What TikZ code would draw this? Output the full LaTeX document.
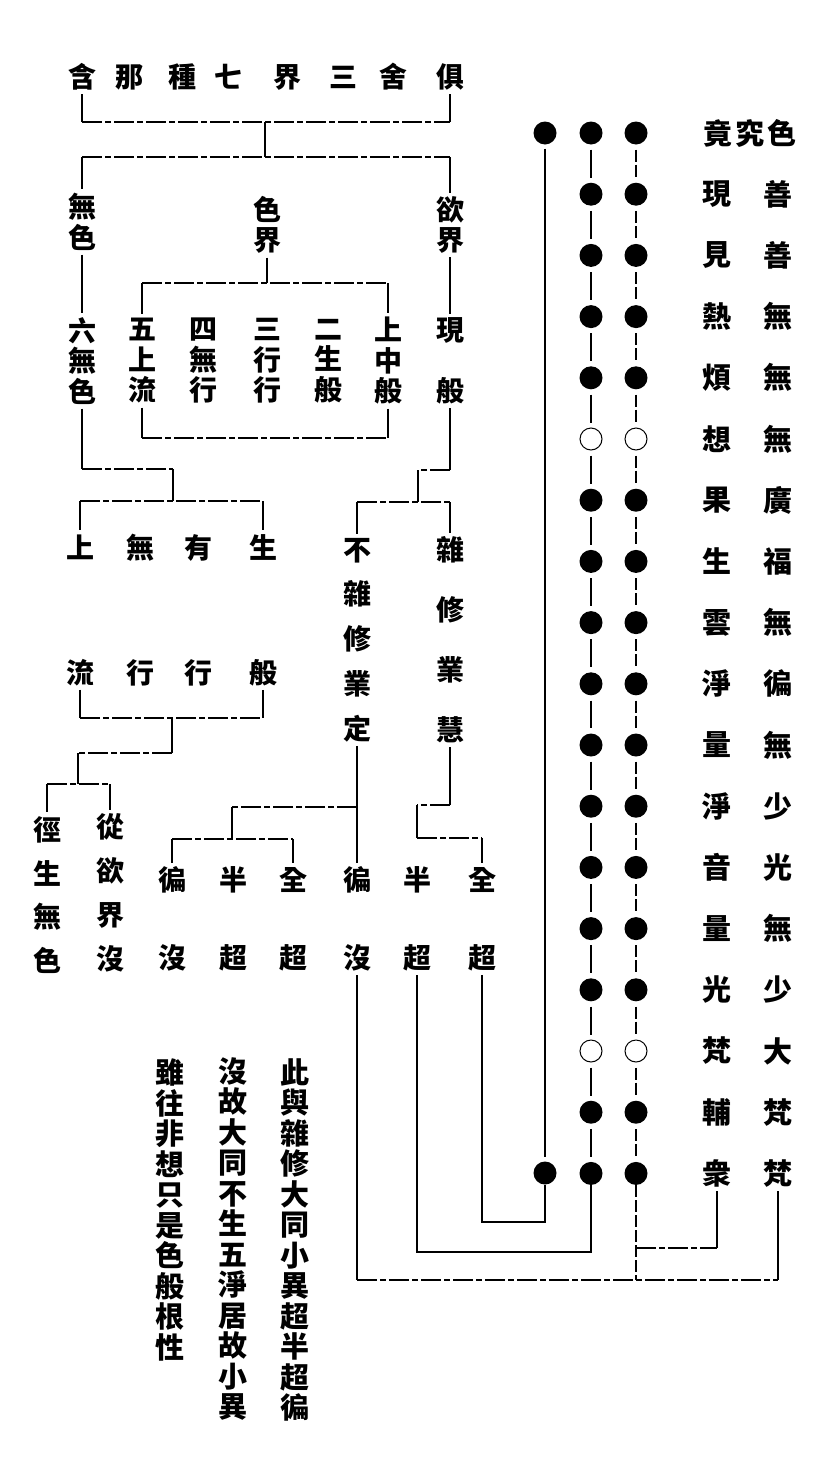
\documentclass[tikz,border=0pt]{standalone}
\usepackage{fontspec}
\newfontfamily\cjk{Noto Sans CJK TC}
\usepackage{tikz}
\tikzstyle{Stem}=[line width=1.6pt]
\tikzstyle{Bar}=[line width=1.2pt, dash pattern=on 20pt off 3pt on 6pt off 3pt]
\tikzstyle{Dot}=[circle, fill=black, minimum size=23pt, inner sep=0pt]
\tikzstyle{Ring}=[circle, draw=black, line width=1pt, minimum size=22pt, inner sep=0pt]
\tikzstyle{LinkB}=[line width=1.6pt, shorten <=5pt, shorten >=5pt]
\tikzstyle{LinkC}=[line width=1.6pt, shorten <=5pt, shorten >=5pt, dash pattern=on 12pt off 3pt]
\tikzset{Col/.style={align=center, inner sep=0pt, outer sep=4pt, font=\cjk\bfseries\fontsize{28pt}{#1pt}\selectfont},
  Lbl/.style={inner sep=0pt, outer sep=4pt, font=\cjk\bfseries\fontsize{29pt}{30pt}\selectfont},
  Note/.style={align=center, inner sep=0pt, font=\cjk\bfseries\fontsize{29pt}{30.5pt}\selectfont}}

\begin{document}
\begin{tikzpicture}[x=1pt, y=-1pt]
\useasboundingbox (0,0) rectangle (835,1483);

% title row
\foreach \x/\c [count=\i] in {82/含,129/那,182/種,228/七,287/界,343/三,393/舍,450/俱}
  \node[Col=30] (t\i) at (\x,77) {\c};

% tree of the three realms
\path
 (82,222) node[Col=31] (wuse) {無\\色}
 (267,225) node[Col=30] (sejie) {色\\界}
 (450,225) node[Col=30] (yujie) {欲\\界}
 (82,361) node[Col=30.5] (liuwu) {六\\無\\色}
 (142,361) node[Col=30.5] (wushang) {五\\上\\流}
 (203,361) node[Col=30.5] (siwu) {四\\無\\行}
 (267,361) node[Col=30.5] (sanxing) {三\\行\\行}
 (328,361) node[Col=30.5] (ersheng) {二\\生\\般}
 (388,361) node[Col=30.5] (shangzhong) {上\\中\\般}
 (450,361) node[Col=61] (xianban) {現\\般}
 (80,610) node[Col=125] (liu) {上\\流}
 (140,610) node[Col=125] (wuxing) {無\\行}
 (198,610) node[Col=125] (youxing) {有\\行}
 (263,610) node[Col=125] (shengban) {生\\般}
 (357,640) node[Col=44.75] (buza) {不\\雜\\修\\業\\定}
 (450,640) node[Col=60] (zaxiu) {雜\\修\\業\\慧}
 (47,895) node[Col=43.7] (jing) {徑\\生\\無\\色}
 (110,893) node[Col=44] (cong) {從\\欲\\界\\沒}
 (172,919) node[Col=78] (piana) {徧\\沒}
 (233,919) node[Col=78] (bana) {半\\超}
 (293,919) node[Col=78] (quana) {全\\超}
 (357,919) node[Col=78] (pianb) {徧\\沒}
 (417,919) node[Col=78] (banb) {半\\超}
 (482,919) node[Col=78] (quanb) {全\\超};

% notes
\node[Note] (noteA) at (295,1240) {此\\與\\雜\\修\\大\\同\\小\\異\\超\\半\\超\\徧};
\node[Note] (noteB) at (233,1239) {沒\\故\\大\\同\\不\\生\\五\\淨\\居\\故\\小\\異};
\node[Note] (noteC) at (170,1210) {雖\\往\\非\\想\\只\\是\\色\\般\\根\\性};

% heavens and their dots
\node[Lbl] (l1) at (750,133) {竟\hspace{3pt}究\hspace{3pt}色};
\foreach \l/\r [count=\k from 2] in {現/善,見/善,熱/無,煩/無,想/無,果/廣,生/福,雲/無,淨/徧,量/無,淨/少,音/光,量/無,光/少,梵/大,輔/梵,衆/梵} {
  \node[Lbl] (l\k) at (717,{133+61.2*(\k-1)}) {\l};
  \node[Lbl] (r\k) at (778,{133+61.2*(\k-1)}) {\r};
}
\foreach \k in {1,2,3,4,5,7,8,9,10,11,12,13,14,15,17,18} {
  \node[Dot] (b\k) at (591,{133+61.2*(\k-1)}) {};
  \node[Dot] (c\k) at (636,{133+61.2*(\k-1)}) {};
}
\foreach \k in {6,16} {
  \node[Ring] (b\k) at (591,{133+61.2*(\k-1)}) {};
  \node[Ring] (c\k) at (636,{133+61.2*(\k-1)}) {};
}
\node[Dot] (a1) at (545,133) {};
\node[Dot] (a18) at (545,1173) {};
\draw[Stem, shorten <=4pt, shorten >=4pt] (a1) -- (a18);
\foreach \k [count=\n from 2] in {1,...,17} {
  \draw[LinkB] (b\k) -- (b\n);
  \draw[LinkC] (c\k) -- (c\n);
}

% corners
\coordinate (barA) at (265,122);
\coordinate (barB) at (265,157);
\coordinate (barC) at (267,283);
\coordinate (barD) at (267,438);
\coordinate (barE) at (173,469);
\coordinate (barF) at (173,501);
\coordinate (barG) at (418,470);
\coordinate (barH) at (418,502);
\coordinate (barI) at (172,718);
\coordinate (barJ) at (172,753);
\coordinate (barK) at (78,784);
\coordinate (barL) at (357,807);
\coordinate (barM) at (232,839);
\coordinate (barN) at (417,805);
\coordinate (barO) at (417,838);
\coordinate (endA) at (482,1222);
\coordinate (endB) at (417,1252);
\coordinate (endC) at (357,1280);
\coordinate (endE) at (717,1248);

% top
\draw[Stem] (t1.south) -- (t1.south |- barA);
\draw[Stem] (t8.south) -- (t8.south |- barA);
\draw[Bar] (t1.south |- barA) -- (t8.south |- barA);
\draw[Stem] (barA) -- (barB);
\draw[Bar] (wuse.north |- barB) -- (yujie.north |- barB);
\draw[Stem] (wuse.north |- barB) -- (wuse.north);
\draw[Stem] (yujie.north |- barB) -- (yujie.north);
\draw[Stem] (wuse.south) -- (liuwu.north);
\draw[Stem] (yujie.south) -- (xianban.north);

% form realm box
\draw[Stem] (sejie.south) -- (barC);
\draw[Bar] (wushang.north |- barC) -- (shangzhong.north |- barC);
\draw[Stem] (wushang.north |- barC) -- (wushang.north);
\draw[Stem] (shangzhong.north |- barC) -- (shangzhong.north);
\draw[Stem] (wushang.south) -- (wushang.south |- barD);
\draw[Stem] (shangzhong.south) -- (shangzhong.south |- barD);
\draw[Bar] (wushang.south |- barD) -- (shangzhong.south |- barD);

% formless realm
\draw[Stem] (liuwu.south) -- (liuwu.south |- barE);
\draw[Bar] (liuwu.south |- barE) -- (barE);
\draw[Stem] (barE) -- (barF);
\draw[Bar] (liu.north |- barF) -- (shengban.north |- barF);
\draw[Stem] (liu.north |- barF) -- (liu.north);
\draw[Stem] (shengban.north |- barF) -- (shengban.north);
\draw[Stem] (liu.south) -- (liu.south |- barI);
\draw[Stem] (shengban.south) -- (shengban.south |- barI);
\draw[Bar] (liu.south |- barI) -- (shengban.south |- barI);
\draw[Stem] (barI) -- (barJ);
\draw[Bar] (barJ) -- (barJ -| barK);
\draw[Stem] (barJ -| barK) -- (barK);
\draw[Bar] (jing.north |- barK) -- (cong.north |- barK);
\draw[Stem] (jing.north |- barK) -- (jing.north);
\draw[Stem] (cong.north |- barK) -- (cong.north);

% desire realm
\draw[Stem] (xianban.south) -- (xianban.south |- barG);
\draw[Bar] (xianban.south |- barG) -- (barG);
\draw[Stem] (barG) -- (barH);
\draw[Bar] (buza.north |- barH) -- (zaxiu.north |- barH);
\draw[Stem] (buza.north |- barH) -- (buza.north);
\draw[Stem] (zaxiu.north |- barH) -- (zaxiu.north);

\draw[Stem] (buza.south) -- (barL);
\draw[Bar] (barL) -- (barL -| barM);
\draw[Stem] (barL -| barM) -- (barM);
\draw[Bar] (piana.north |- barM) -- (quana.north |- barM);
\draw[Stem] (piana.north |- barM) -- (piana.north);
\draw[Stem] (quana.north |- barM) -- (quana.north);
\draw[Stem] (barL) -- (pianb.north);

\draw[Stem] (zaxiu.south) -- (zaxiu.south |- barN);
\draw[Bar] (zaxiu.south |- barN) -- (barN);
\draw[Stem] (barN) -- (barO);
\draw[Bar] (barO) -- (quanb.north |- barO);
\draw[Stem] (quanb.north |- barO) -- (quanb.north);

% down to the heavens
\draw[Stem] (quanb.south) -- (endA) -| (a18.south);
\draw[Stem] (banb.south) -- (endB) -| (b18.south);
\draw[Stem] (pianb.south) -- (endC);
\draw[Bar] (endC) -- (r18.south |- endC);
\draw[Stem] (r18.south) -- (r18.south |- endC);
\draw[LinkC, shorten <=0pt, shorten >=0pt] (c18.south) -- (c18.south |- endC);
\draw[Bar] (c18.south |- endE) -- (endE);
\draw[Stem] (l18.south) -- (endE);
\end{tikzpicture}
\end{document}
